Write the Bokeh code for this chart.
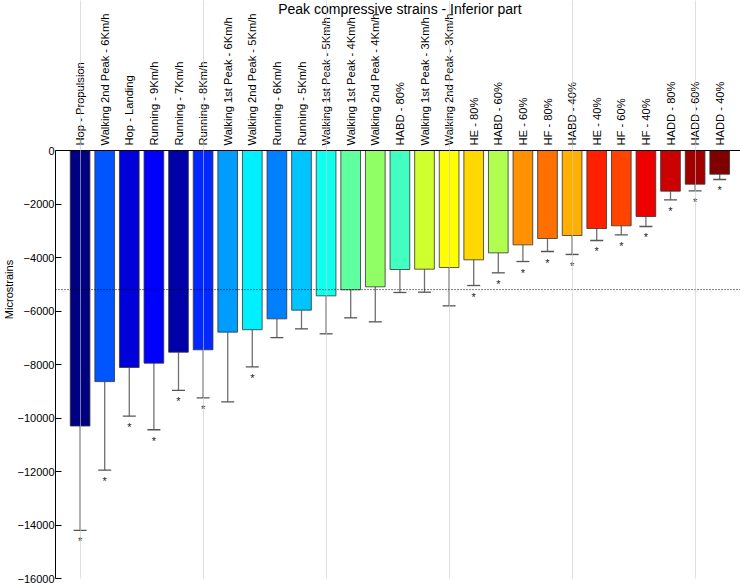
import math
from bokeh.plotting import figure
from bokeh.models import Range1d, FixedTicker, Span, Grid, LinearAxis, Title
from bokeh.core.properties import value
from bokeh.embed import file_html
from bokeh.resources import INLINE

# ---------------- data ----------------
categories = [
    "Hop - Propulsion", "Walking 2nd Peak - 6Km/h", "Hop - Landing",
    "Running - 9Km/h", "Running - 7Km/h", "Running - 8Km/h",
    "Walking 1st Peak - 6Km/h", "Walking 2nd Peak - 5Km/h", "Running - 6Km/h",
    "Running - 5Km/h", "Walking 1st Peak - 5Km/h", "Walking 1st Peak - 4Km/h",
    "Walking 2nd Peak - 4Km/h", "HABD - 80%", "Walking 1st Peak - 3Km/h",
    "Walking 2nd Peak - 3Km/h", "HE - 80%", "HABD - 60%", "HE - 60%",
    "HF - 80%", "HABD - 40%", "HE - 40%", "HF - 60%", "HF - 40%",
    "HADD - 80%", "HADD - 60%", "HADD - 40%",
]
means = [
    -10300, -8640, -8110, -7950, -7540, -7450, -6790, -6700, -6293,
    -5969, -5433, -5208, -5096, -4449, -4436, -4374, -4087, -3826,
    -3527, -3290, -3178, -2916, -2816, -2467, -1520, -1259, -885,
]
sds = [
    3900, 3310, 1820, 2490, 1425, 1800, 2605, 1390, 702,
    698, 1420, 1047, 1309, 859, 860, 1433, 960, 747,
    623, 486, 710, 448, 337, 374, 324, 249, 199,
]
significant = [
    1, 1, 1, 1, 1, 1, 0, 1, 0,
    0, 0, 0, 0, 0, 0, 0, 1, 1,
    1, 1, 1, 1, 1, 1, 1, 1, 1,
]
colors = [
    "#000080", "#0055FF", "#0000D8", "#0000FF", "#0000A8", "#0028FF",
    "#009CFF", "#00F0FF", "#0080FF", "#00C4FF", "#10FFEF", "#60FFA0",
    "#90FF66", "#40FFC0", "#D0FF30", "#FFFF00", "#FFD800", "#B0FF50",
    "#FF9000", "#FF7000", "#FFB000", "#FF2000", "#FF4400", "#EE0000",
    "#CC0000", "#A00000", "#800000",
]
threshold = -5200
y_ticks = [-16000, -14000, -12000, -10000, -8000, -6000, -4000, -2000, 0]
title_text = "Peak compressive strains - Inferior part"
y_label = "Microstrains"

# ---------------- layout ----------------
W, H = 740, 583
LEFT, TOP, BOTTOM = 55, 150, 5
frame_w = W - LEFT
frame_h = H - TOP - BOTTOM
ymin, yzero = y_ticks[0], y_ticks[-1]
ypx = frame_h / (yzero - ymin)
ymax = TOP / ypx
bar_px = 24.6
xmin = 0
xmax = xmin + frame_w / bar_px

n = len(categories)
xs = list(range(1, n + 1))
lower = [m - s for m, s in zip(means, sds)]
FONT = "Liberation Sans"

p = figure(width=W, height=H,
           x_range=Range1d(xmin, xmax), y_range=Range1d(ymin, ymax),
           output_backend="svg", toolbar_location=None,
           x_axis_location=None, y_axis_location=None,
           min_border_left=LEFT, min_border_right=0,
           min_border_top=0, min_border_bottom=BOTTOM)
p.outline_line_color = None
p.grid.grid_line_color = None
p.background_fill_color = "white"

yaxis = LinearAxis(bounds=(ymin, yzero), ticker=FixedTicker(ticks=y_ticks),
                   major_tick_in=6, major_tick_out=0,
                   minor_tick_line_color=None, major_label_standoff=1,
                   major_label_text_font=FONT, major_label_text_font_size="11px",
                   major_label_text_color="black", axis_line_color="black",
                   major_tick_line_color="black")
p.add_layout(yaxis, "left")
p.add_layout(Title(text=y_label, align="center", standoff=0, offset=0,
                   text_font=FONT, text_font_size="11px",
                   text_font_style="normal", text_color="black"), "left")

# light reference grid
vgrid = Grid(dimension=0, ticker=FixedTicker(ticks=xs[::5]), bounds=(ymin, yzero),
             grid_line_color="#c8c8c8", grid_line_alpha=0.6, level="overlay")
hgrid = Grid(dimension=1, ticker=FixedTicker(ticks=[ymin]), bounds=(xs[0], xs[::5][-1]),
             grid_line_color="#c8c8c8", grid_line_alpha=0.8)
p.add_layout(vgrid)
p.add_layout(hgrid)

# error bars
p.segment(x0=xs, y0=means, x1=xs, y1=lower, line_color="#707070", line_width=1.3)
p.scatter(x=xs, y=lower, marker="dash", size=13, line_color="#555555", line_width=1.3)

# bars
p.vbar(x=xs, top=0, bottom=means, width=0.8, fill_color=colors,
       line_color="#333333", line_alpha=0.8, line_width=1)

# lines
p.add_layout(Span(location=yzero, dimension="width", line_color="black", line_width=1))
p.add_layout(Span(location=threshold, dimension="width", line_color="black",
                  line_width=1, line_dash="1 2"))

# significance stars
sx = [x for x, s in zip(xs, significant) if s]
sy = [y for y, s in zip(lower, significant) if s]
p.text(x=sx, y=sy, text=["*"] * len(sx), text_align="center",
       text_baseline="alphabetic", y_offset=11,
       text_font=value(FONT), text_font_size="11px", text_color="#222222")

# category labels
p.text(x=xs, y=[yzero] * n, text=categories, angle=math.pi / 2,
       text_align="left", text_baseline="middle", y_offset=-5,
       text_font=value(FONT), text_font_size="11.2px", text_color="black")

# title
p.text(x=[(xs[0] - 1 + xs[-1] + 1) / 2], y=[ymax], text=[title_text],
       text_align="center", text_baseline="top", y_offset=0,
       text_font=value(FONT), text_font_size="14px", text_color="black")

open("out.html", "w").write(file_html(p, INLINE))
